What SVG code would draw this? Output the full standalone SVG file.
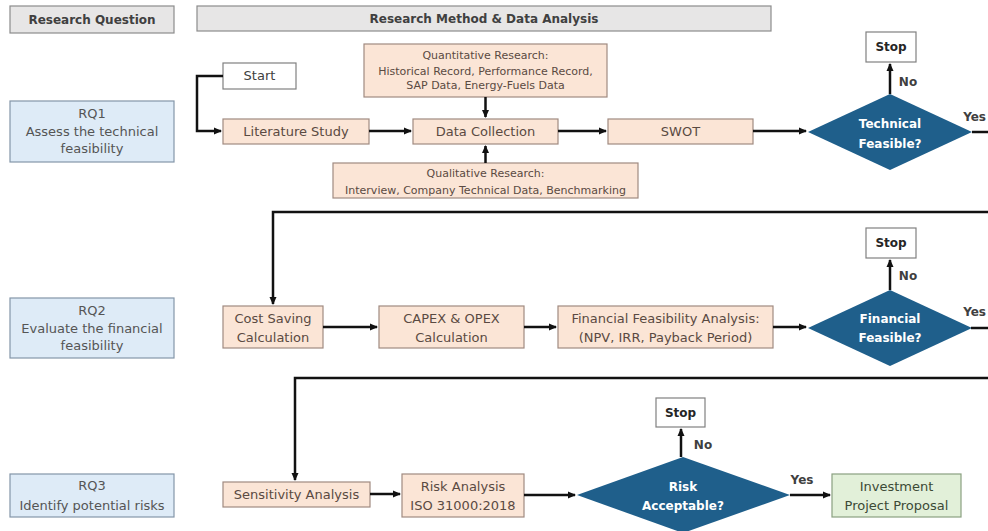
<svg xmlns="http://www.w3.org/2000/svg" width="988" height="531" viewBox="0 0 988 531">
<style>
text{font-family:"DejaVu Sans","Liberation Sans",Arial,sans-serif;text-anchor:middle}
.hdr{fill:#e7e6e6;stroke:#8c8c8c;stroke-width:1.2}
.hdrt{font-size:12px;font-weight:bold;fill:#404040}
.rq{fill:#deebf7;stroke:#8496a8;stroke-width:1.2}
.rqt{font-size:13px;fill:#555555}
.pe{fill:#fbe5d6;stroke:#a08a80;stroke-width:1.2}
.pet{font-size:13px;fill:#5a4a42}
.sm{font-size:11px;fill:#5a4a42}
.wh{fill:#ffffff;stroke:#808080;stroke-width:1.2}
.wht{font-size:13px;fill:#404040}
.st{font-size:12px;font-weight:bold;fill:#262626}
.dm{fill:#1f5f8b}
.dmt{font-size:12px;font-weight:bold;fill:#ffffff}
.gr{fill:#e2f0d9;stroke:#8aa080;stroke-width:1.2}
.grt{font-size:13px;fill:#3c4a36}
.lbl{font-size:12px;font-weight:bold;fill:#404040}
.c{fill:none;stroke:#111111;stroke-width:2.5}
</style>
<defs>
<marker id="ah" markerWidth="8" markerHeight="8" refX="7" refY="4" orient="auto" markerUnits="userSpaceOnUse">
<path d="M0,0.5 L8,4 L0,7.5 z" fill="#111111"/>
</marker>
</defs>
<rect width="988" height="531" fill="#ffffff"/>

<g id="hdr-rq"><rect class="hdr" x="10" y="6" width="164" height="27"/><text class="hdrt" x="92" y="24">Research Question</text></g>
<g id="hdr-rm"><rect class="hdr" x="197" y="6" width="574" height="25"/><text class="hdrt" x="484" y="23">Research Method &amp; Data Analysis</text></g>

<g id="rq1"><rect class="rq" x="10" y="101" width="164" height="61"/>
<text class="rqt" x="92" y="118">RQ1</text><text class="rqt" x="92" y="136">Assess the technical</text><text class="rqt" x="92" y="153">feasibility</text></g>
<g id="rq2"><rect class="rq" x="10" y="298" width="164" height="60"/>
<text class="rqt" x="92" y="315">RQ2</text><text class="rqt" x="92" y="333">Evaluate the financial</text><text class="rqt" x="92" y="350">feasibility</text></g>
<g id="rq3"><rect class="rq" x="10" y="474" width="164" height="43"/>
<text class="rqt" x="92" y="490">RQ3</text><text class="rqt" x="92" y="510">Identify potential risks</text></g>

<g id="start"><rect class="wh" x="223" y="63" width="73" height="26"/><text class="wht" x="259.5" y="80">Start</text></g>
<g id="lit"><rect class="pe" x="223" y="119" width="146" height="25"/><text class="pet" x="296" y="136">Literature Study</text></g>
<g id="quant"><rect class="pe" x="364" y="44" width="243" height="53"/>
<text class="sm" x="485.5" y="59">Quantitative Research:</text><text class="sm" x="485.5" y="75">Historical Record, Performance Record,</text><text class="sm" x="485.5" y="89">SAP Data, Energy-Fuels Data</text></g>
<g id="dc"><rect class="pe" x="413" y="119" width="145" height="25"/><text class="pet" x="485.5" y="136">Data Collection</text></g>
<g id="qual"><rect class="pe" x="333" y="163" width="305" height="35"/>
<text class="sm" x="485.5" y="177">Qualitative Research:</text><text class="sm" x="485.5" y="194">Interview, Company Technical Data, Benchmarking</text></g>
<g id="swot"><rect class="pe" x="608" y="119" width="145" height="25"/><text class="pet" x="680.5" y="136">SWOT</text></g>
<g id="d1"><polygon class="dm" points="808,132 890,94 972,132 890,170"/>
<text class="dmt" x="890" y="128">Technical</text><text class="dmt" x="890" y="148">Feasible?</text></g>
<g id="stop1"><rect class="wh" x="866" y="32" width="50" height="30"/><text class="st" x="891" y="51">Stop</text></g>

<g id="cost"><rect class="pe" x="223" y="306" width="100" height="42"/>
<text class="pet" x="273" y="323">Cost Saving</text><text class="pet" x="273" y="342">Calculation</text></g>
<g id="capex"><rect class="pe" x="379" y="306" width="145" height="42"/>
<text class="pet" x="451.5" y="323">CAPEX &amp; OPEX</text><text class="pet" x="451.5" y="342">Calculation</text></g>
<g id="fin"><rect class="pe" x="558" y="306" width="215" height="42"/>
<text class="pet" x="665.5" y="323">Financial Feasibility Analysis:</text><text class="pet" x="665.5" y="342">(NPV, IRR, Payback Period)</text></g>
<g id="d2"><polygon class="dm" points="808,328 890,290 972,328 890,366"/>
<text class="dmt" x="890" y="323">Financial</text><text class="dmt" x="890" y="342">Feasible?</text></g>
<g id="stop2"><rect class="wh" x="866" y="228" width="50" height="30"/><text class="st" x="891" y="247">Stop</text></g>

<g id="sens"><rect class="pe" x="223" y="482" width="147" height="25"/><text class="pet" x="296.5" y="499">Sensitivity Analysis</text></g>
<g id="risk"><rect class="pe" x="402" y="474" width="122" height="43"/>
<text class="pet" x="463" y="491">Risk Analysis</text><text class="pet" x="463" y="510">ISO 31000:2018</text></g>
<g id="d3"><polygon class="dm" points="577,495 683,457 790,495 683,533"/>
<text class="dmt" x="683" y="491">Risk</text><text class="dmt" x="683" y="510">Acceptable?</text></g>
<g id="stop3"><rect class="wh" x="656" y="398" width="49" height="29"/><text class="st" x="680.5" y="417">Stop</text></g>
<g id="inv"><rect class="gr" x="832" y="474" width="129" height="43"/>
<text class="grt" x="896.5" y="491">Investment</text><text class="grt" x="896.5" y="510">Project Proposal</text></g>

<g id="connectors">
<path class="c" d="M223,76 H197 V131 H221" marker-end="url(#ah)"/>
<path class="c" d="M369,131 H411" marker-end="url(#ah)"/>
<path class="c" d="M485.5,97 V117" marker-end="url(#ah)"/>
<path class="c" d="M485.5,163 V146" marker-end="url(#ah)"/>
<path class="c" d="M558,131 H606" marker-end="url(#ah)"/>
<path class="c" d="M753,131 H806" marker-end="url(#ah)"/>
<path class="c" d="M890,94 V64" marker-end="url(#ah)"/>
<path class="c" d="M972,132 H988"/>
<path class="c" d="M988,212 H273 V304" marker-end="url(#ah)"/>
<path class="c" d="M323,327 H377" marker-end="url(#ah)"/>
<path class="c" d="M524,327 H556" marker-end="url(#ah)"/>
<path class="c" d="M773,327 H806" marker-end="url(#ah)"/>
<path class="c" d="M890,290 V260" marker-end="url(#ah)"/>
<path class="c" d="M971,328 H988"/>
<path class="c" d="M988,378 H295 V480" marker-end="url(#ah)"/>
<path class="c" d="M370,494 H400" marker-end="url(#ah)"/>
<path class="c" d="M524,495 H575" marker-end="url(#ah)"/>
<path class="c" d="M681,457 V429" marker-end="url(#ah)"/>
<path class="c" d="M790,495 H830" marker-end="url(#ah)"/>
<text class="lbl" x="908" y="86">No</text>
<text class="lbl" x="986" y="121" style="text-anchor:end">Yes</text>
<text class="lbl" x="908" y="280">No</text>
<text class="lbl" x="986" y="316" style="text-anchor:end">Yes</text>
<text class="lbl" x="703" y="449">No</text>
<text class="lbl" x="802" y="484">Yes</text>
</g>
</svg>
